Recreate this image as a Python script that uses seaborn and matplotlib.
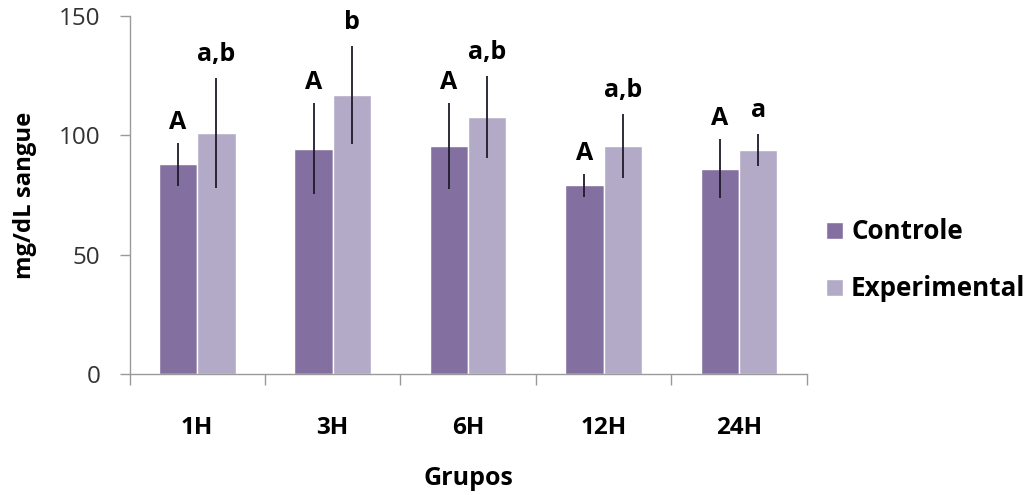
import matplotlib
matplotlib.use("Agg")
import matplotlib.pyplot as plt
import seaborn as sns
import pandas as pd
import numpy as np
from matplotlib.ticker import FixedLocator
from matplotlib.container import BarContainer

groups = ["1H", "3H", "6H", "12H", "24H"]
series = ["Controle", "Experimental"]
controle = [88.0, 94.4, 95.5, 79.2, 86.1]
experimental = [101.2, 116.9, 107.7, 95.4, 93.7]
controle_sd = [9.0, 19.0, 18.0, 4.8, 12.3]
experimental_sd = [23.0, 20.6, 17.0, 13.4, 6.7]
controle_letters = ["A", "A", "A", "A", "A"]
experimental_letters = ["a,b", "b", "a,b", "a,b", "a"]
yticks = [0, 50, 100, 150]

colors = ["#8470A0", "#B3AAC7"]

sns.set_theme(style="white")
plt.rcParams["font.family"] = ["Open Sans", "DejaVu Sans"]

df = pd.DataFrame({
    "Grupos": groups * 2,
    "Serie": [series[0]] * 5 + [series[1]] * 5,
    "valor": controle + experimental,
})

fig = plt.figure(figsize=(10.33, 4.95), dpi=100)
ax = fig.add_axes([0.1254, 0.2438, 0.781 - 0.1254, 0.9677 - 0.2438])

sns.barplot(data=df, x="Grupos", y="valor", hue="Serie", order=groups,
            hue_order=series, palette=colors, width=0.566, gap=0,
            errorbar=None, saturation=1, ax=ax, legend=True)

# error bars and letters from the bar patches
sds = [controle_sd, experimental_sd]
letters = [controle_letters, experimental_letters]
offsets = [14, 17]
bar_containers = [c for c in ax.containers if isinstance(c, BarContainer)]
for k, cont in enumerate(bar_containers):
    for i, bar in enumerate(cont.patches):
        xc = bar.get_x() + bar.get_width() / 2
        h = bar.get_height()
        ax.errorbar(xc, h, yerr=sds[k][i], fmt="none", ecolor="#1f1a2a",
                    elinewidth=1.3, capsize=0, zorder=5)
        ax.annotate(letters[k][i], xy=(xc, h + sds[k][i]), xytext=(0, offsets[k]),
                    textcoords="offset pixels", ha="center", va="baseline",
                    fontsize=18, fontweight="bold", color="black")

ax.set_ylim(0, 150)
ax.set_xlim(-0.5, 4.5)
ax.set_yticks(yticks)
ax.set_yticklabels([str(t) for t in yticks], fontsize=17.5, color="#333333")

ax.xaxis.set_minor_locator(FixedLocator(np.arange(-0.5, 5.0, 1.0)))
ax.tick_params(axis="x", which="major", length=0, pad=30, labelsize=17.5)
ax.tick_params(axis="x", which="minor", length=8, width=1, color="#9a9a9a", bottom=True)
ax.tick_params(axis="y", which="major", length=7, width=1, color="#9a9a9a", left=True, pad=14)
for lab in ax.get_xticklabels():
    lab.set_fontweight("bold")
    lab.set_color("black")

for s in ["top", "right"]:
    ax.spines[s].set_visible(False)
for s in ["left", "bottom"]:
    ax.spines[s].set_color("#9a9a9a")
    ax.spines[s].set_linewidth(1)

ax.set_xlabel("Grupos", fontsize=18, fontweight="bold", labelpad=19, color="black")
ax.set_ylabel("mg/dL sangue", fontsize=17.2, fontweight="bold", labelpad=16, color="black")

leg = ax.legend(loc="center left", bbox_to_anchor=(0.800, 0.474),
                bbox_transform=fig.transFigure, frameon=False, fontsize=18.7,
                handlelength=0.65, handleheight=0.65, handletextpad=0.3,
                labelspacing=1.15, borderpad=0, borderaxespad=0)
for t in leg.get_texts():
    t.set_fontweight("bold")
    t.set_color("black")

fig.savefig("out.png", dpi=100)
